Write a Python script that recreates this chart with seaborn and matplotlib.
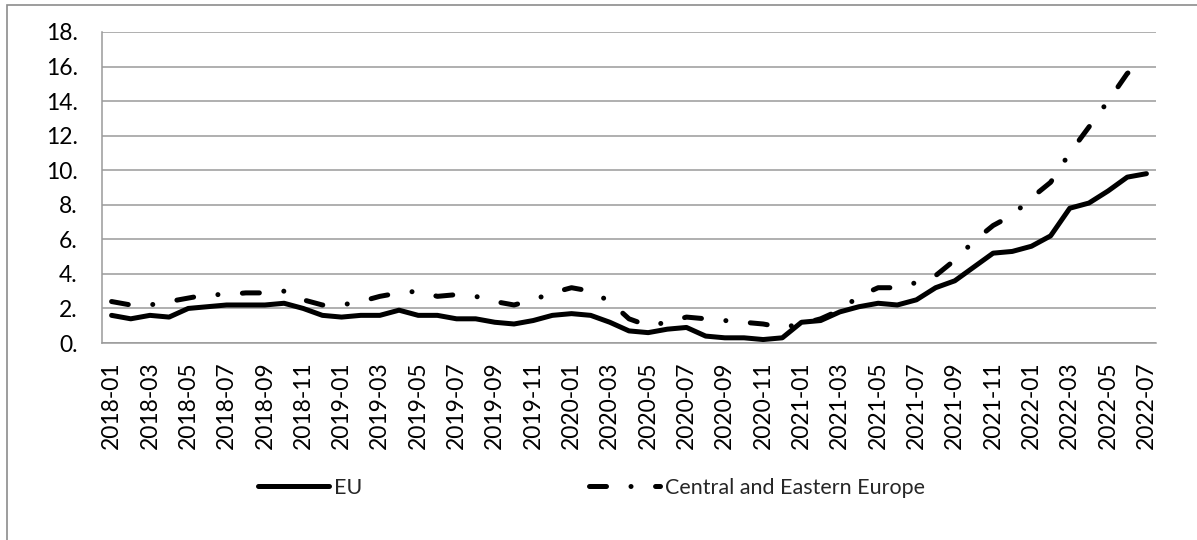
import numpy as np
import pandas as pd
import matplotlib
matplotlib.use("Agg")
import matplotlib.pyplot as plt
import seaborn as sns
from matplotlib.patches import Rectangle

# Monthly categories, January 2018 to July 2022
months = [f"{y}-{m:02d}" for y in range(2018, 2023) for m in range(1, 13)][:55]

eu_values = [
    1.6, 1.4, 1.6, 1.5, 2.0, 2.1, 2.2, 2.2, 2.2, 2.3, 2.0, 1.6,
    1.5, 1.6, 1.6, 1.9, 1.6, 1.6, 1.4, 1.4, 1.2, 1.1, 1.3, 1.6,
    1.7, 1.6, 1.2, 0.7, 0.6, 0.8, 0.9, 0.4, 0.3, 0.3, 0.2, 0.3,
    1.2, 1.3, 1.8, 2.1, 2.3, 2.2, 2.5, 3.2, 3.6, 4.4, 5.2, 5.3,
    5.6, 6.2, 7.8, 8.1, 8.8, 9.6, 9.8,
]
cee_values = [
    2.4, 2.2, 2.2, 2.4, 2.6, 2.8, 2.8, 2.9, 2.9, 3.0, 2.5, 2.2,
    2.2, 2.4, 2.7, 2.9, 3.0, 2.7, 2.8, 2.7, 2.4, 2.2, 2.5, 2.9,
    3.2, 3.0, 2.4, 1.4, 1.0, 1.2, 1.5, 1.4, 1.3, 1.2, 1.1, 0.9,
    1.1, 1.4, 1.9, 2.7, 3.2, 3.2, 3.5, 3.9, 4.8, 5.9, 6.8, 7.4,
    8.4, 9.3, 11.0, 12.5, 14.0, 15.6, 16.4,
]
series_names = ["EU", "Central and Eastern Europe"]
ytick_values = [0, 2, 4, 6, 8, 10, 12, 14, 16, 18]
ytick_labels = ["0.", "2.", "4.", "6.", "8.", "10.", "12.", "14.", "16.", "18."]

sns.set_theme(style="white")
plt.rcParams["font.family"] = ["Lato", "DejaVu Sans"]
plt.rcParams.update({
    "lines.solid_capstyle": "round",
    "lines.dash_capstyle": "round",
    "lines.solid_joinstyle": "round",
    "lines.dash_joinstyle": "round",
})

n = len(months)
df = pd.DataFrame({
    "pos": list(range(n)) * 2,
    "value": eu_values + cee_values,
    "series": [series_names[0]] * n + [series_names[1]] * n,
})

W, H = 1197, 540
GRAY = "#9a9a9a"
fig = plt.figure(figsize=(W / 100, H / 100), dpi=100)
fig.patch.set_facecolor("white")
ax = fig.add_axes([102 / W, 1 - 343 / H, (1156 - 102) / W, (343 - 32) / H])

sns.lineplot(
    data=df, x="pos", y="value", hue="series", style="series",
    palette={series_names[0]: "black", series_names[1]: "black"},
    dashes={series_names[0]: "", series_names[1]: (3.4, 4.9, 0.01, 4.9)},
    linewidth=3.6, estimator=None, sort=False, ax=ax, legend=True,
)
ax.get_legend().remove()

ax.set_xlim(-0.5, n - 0.5)
ax.set_ylim(0, 18)
ax.set_yticks(ytick_values, ytick_labels)
ax.set_xticks(range(0, n, 2), months[::2], rotation=90)
ax.set_xticks(np.arange(-0.5, n, 1), minor=True)
ax.set_xlabel("")
ax.set_ylabel("")

ax.tick_params(axis="x", which="major", length=0, pad=13, labelsize=16.5, colors="black")
ax.tick_params(axis="x", which="minor", length=5, width=1.1, color=GRAY, direction="out")
ax.tick_params(axis="y", length=6.5, width=1.1, color=GRAY, direction="out",
               pad=11, labelsize=16.5, labelcolor="black")
ax.yaxis.grid(True, color=GRAY, linewidth=1.1)
ax.xaxis.grid(False)
ax.set_axisbelow(True)
for side in ("top", "right"):
    ax.spines[side].set_visible(False)
for side in ("left", "bottom"):
    ax.spines[side].set_color(GRAY)
    ax.spines[side].set_linewidth(1.1)

fig.legend(
    handles=ax.lines[:2], labels=series_names, ncol=2,
    loc="center left", bbox_to_anchor=(258 / W, 1 - 488 / H),
    frameon=False, fontsize=15.5, handlelength=3.3, handletextpad=0.25,
    columnspacing=10.5, borderpad=0, borderaxespad=0,
)

fig.add_artist(Rectangle((7 / W, -0.1), 1.2, 1.1 - 5 / H, transform=fig.transFigure,
                         fill=False, edgecolor="#8c8c8c", linewidth=1.2))

fig.savefig("out.png", dpi=100)
